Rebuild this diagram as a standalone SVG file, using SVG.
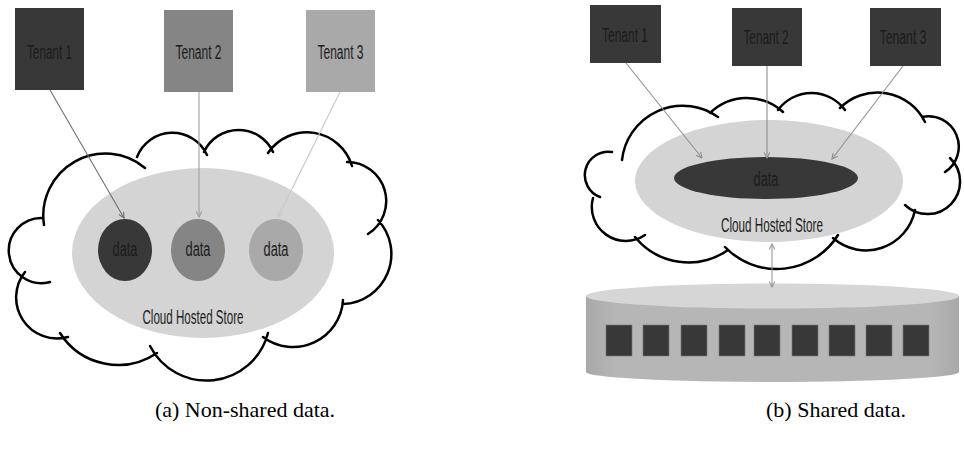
<svg xmlns="http://www.w3.org/2000/svg" width="964" height="453" viewBox="0 0 964 453">
<style>
.cloudfill{fill:#fff;stroke:none}
.cloud{fill:none;stroke:#000;stroke-width:2.5;stroke-linecap:round}
.store{fill:#d4d4d4}
.lbl{font-family:"Liberation Sans Narrow","Liberation Sans",Arial,sans-serif;font-size:20px;text-anchor:middle;fill:#1c1c1c}
.cap{font-family:"Liberation Serif","Times New Roman",serif;font-size:22px;text-anchor:middle;fill:#000}
.sq{fill:#383838;stroke:#777;stroke-width:0.6}
</style>
<defs>
<marker id="ah" viewBox="0 0 10 10" refX="9" refY="5" markerWidth="7" markerHeight="7" orient="auto-start-reverse" markerUnits="userSpaceOnUse">
<path d="M1,1 L9,5 L1,9" fill="none" stroke="context-stroke" stroke-width="1.6"/>
</marker>
<linearGradient id="cyl" x1="0" y1="0" x2="1" y2="0">
<stop offset="0" stop-color="#a9a9a9"/>
<stop offset="0.08" stop-color="#b6b6b6"/>
<stop offset="0.92" stop-color="#b6b6b6"/>
<stop offset="1" stop-color="#a9a9a9"/>
</linearGradient>
</defs>

<!-- Left panel: cloud -->
<g id="cloud-a">
<path class="cloudfill" d="M44,225 A62,62 0 0 1 145,168 L137,157 A38,38 0 0 1 207,155 L204,152 A38,38 0 0 1 273,152 L268,153 A47,47 0 0 1 352,166 L347,162 A39,39 0 0 1 368,234 L378,220 A50,50 0 0 1 343,304 L343,300 A50,50 0 0 1 263,337 L268,333 A63.5,63.5 0 0 1 150,346 L157,353 A69,69 0 0 1 60,333 L68,337 A41,41 0 0 1 25,272 L50,282 A32.6,32.6 0 1 1 43,218 Z"/>
<path class="cloud" d="M44,225 A62,62 0 0 1 145,168 M137,157 A38,38 0 0 1 207,155 M204,152 A38,38 0 0 1 273,152 M268,153 A47,47 0 0 1 352,166 M347,162 A39,39 0 0 1 368,234 M378,220 A50,50 0 0 1 343,304 M343,300 A50,50 0 0 1 263,337 M268,333 A63.5,63.5 0 0 1 150,346 M157,353 A69,69 0 0 1 60,333 M68,337 A41,41 0 0 1 25,272 M50,282 A32.6,32.6 0 1 1 43,218"/>
</g>
<g id="store-a">
<ellipse class="store" cx="203" cy="253" rx="131" ry="85"/>
<text class="lbl" x="193" y="324" textLength="101" lengthAdjust="spacingAndGlyphs">Cloud Hosted Store</text>
</g>
<g id="data-a1">
<ellipse cx="125" cy="250" rx="27" ry="31" fill="#383838"/>
<text class="lbl" x="125" y="256" textLength="25" lengthAdjust="spacingAndGlyphs">data</text>
</g>
<g id="data-a2">
<ellipse cx="198" cy="250" rx="27" ry="31" fill="#858585"/>
<text class="lbl" x="198" y="256" textLength="25" lengthAdjust="spacingAndGlyphs">data</text>
</g>
<g id="data-a3">
<ellipse cx="276" cy="250" rx="27" ry="31" fill="#a9a9a9"/>
<text class="lbl" x="276" y="256" textLength="25" lengthAdjust="spacingAndGlyphs">data</text>
</g>
<g id="tenant-a1">
<rect x="15" y="8" width="69" height="82" fill="#383838"/>
<text class="lbl" x="49.5" y="59" textLength="45" lengthAdjust="spacingAndGlyphs" fill="#161616">Tenant 1</text>
</g>
<g id="tenant-a2">
<rect x="164" y="10" width="69" height="82" fill="#858585"/>
<text class="lbl" x="198.5" y="59" textLength="46" lengthAdjust="spacingAndGlyphs">Tenant 2</text>
</g>
<g id="tenant-a3">
<rect x="306" y="10" width="69" height="82" fill="#a9a9a9"/>
<text class="lbl" x="340.5" y="59" textLength="46" lengthAdjust="spacingAndGlyphs">Tenant 3</text>
</g>

<!-- Right panel: cloud -->
<g id="cloud-b">
<path class="cloudfill" d="M622,160 A61,61 0 0 1 718,117 L710,113 A53,53 0 0 1 783,112 L778,110 A41.5,41.5 0 0 1 845,110 L840,108 A53,53 0 0 1 925,122 L922,117 A30.3,30.3 0 0 1 945,172 L950,158 A32.5,32.5 0 1 1 905,205 L915,210 A50,50 0 0 1 833,238 L838,235 A72,72 0 0 1 725,247 L728,250 A69,69 0 0 1 635,237 L645,235 A34,34 0 0 1 593,198 L600,197 A23.4,23.4 0 0 1 612,152 Z"/>
<path class="cloud" d="M622,160 A61,61 0 0 1 718,117 M710,113 A53,53 0 0 1 783,112 M778,110 A41.5,41.5 0 0 1 845,110 M840,108 A53,53 0 0 1 925,122 M922,117 A30.3,30.3 0 0 1 945,172 M950,158 A32.5,32.5 0 1 1 905,205 M915,210 A50,50 0 0 1 833,238 M838,235 A72,72 0 0 1 725,247 M728,250 A69,69 0 0 1 635,237 M645,235 A34,34 0 0 1 593,198 M600,197 A23.4,23.4 0 0 1 612,152"/>
</g>
<g id="store-b">
<ellipse class="store" cx="769" cy="181" rx="134" ry="61"/>
<text class="lbl" x="772" y="232" textLength="102" lengthAdjust="spacingAndGlyphs">Cloud Hosted Store</text>
</g>
<g id="data-b">
<ellipse cx="766" cy="178" rx="92" ry="21" fill="#383838"/>
<text class="lbl" x="766" y="186" textLength="25" lengthAdjust="spacingAndGlyphs" fill="#4a4a4a">data</text>
</g>
<g id="tenant-b1">
<rect x="590" y="5" width="71" height="58" fill="#383838"/>
<text class="lbl" x="625" y="42" textLength="46" lengthAdjust="spacingAndGlyphs" fill="#1a1a1a">Tenant 1</text>
</g>
<g id="tenant-b2">
<rect x="732" y="8" width="70" height="58" fill="#383838"/>
<text class="lbl" x="766" y="44" textLength="45" lengthAdjust="spacingAndGlyphs" fill="#1a1a1a">Tenant 2</text>
</g>
<g id="tenant-b3">
<rect x="870" y="8" width="71" height="58" fill="#383838"/>
<text class="lbl" x="903" y="44" textLength="47" lengthAdjust="spacingAndGlyphs" fill="#1a1a1a">Tenant 3</text>
</g>
<g id="disk">
<path d="M586,296 L586,372 A186.5,10 0 0 0 959,372 L959,296 Z" fill="url(#cyl)"/>
<ellipse cx="772.5" cy="296" rx="186.5" ry="12.5" fill="#d6d6d6"/>
<rect class="sq" x="606" y="325" width="26" height="31"/>
<rect class="sq" x="643" y="325" width="26" height="31"/>
<rect class="sq" x="681" y="325" width="26" height="31"/>
<rect class="sq" x="719" y="325" width="26" height="31"/>
<rect class="sq" x="754" y="325" width="26" height="31"/>
<rect class="sq" x="792" y="325" width="26" height="31"/>
<rect class="sq" x="829" y="325" width="26" height="31"/>
<rect class="sq" x="866" y="325" width="26" height="31"/>
<rect class="sq" x="903" y="325" width="26" height="31"/>
</g>

<!-- Connectors -->
<g id="connectors" fill="none" stroke-width="1.1">
<line x1="50" y1="90" x2="124" y2="218" stroke="#6f6f6f" marker-end="url(#ah)"/>
<line x1="199" y1="92" x2="199" y2="217" stroke="#a0a0a0" marker-end="url(#ah)"/>
<line x1="340" y1="92" x2="278" y2="217" stroke="#c8c8c8" marker-end="url(#ah)"/>
<line x1="626" y1="63" x2="702" y2="158" stroke="#8f8f8f" marker-end="url(#ah)"/>
<line x1="767" y1="66" x2="767" y2="158" stroke="#8f8f8f" marker-end="url(#ah)"/>
<line x1="903" y1="66" x2="832" y2="159" stroke="#8f8f8f" marker-end="url(#ah)"/>
<line x1="772" y1="244" x2="772" y2="287" stroke="#9a9a9a" marker-start="url(#ah)" marker-end="url(#ah)"/>
</g>

<text class="cap" x="245" y="417">(a) Non-shared data.</text>
<text class="cap" x="836" y="417">(b) Shared data.</text>
</svg>
